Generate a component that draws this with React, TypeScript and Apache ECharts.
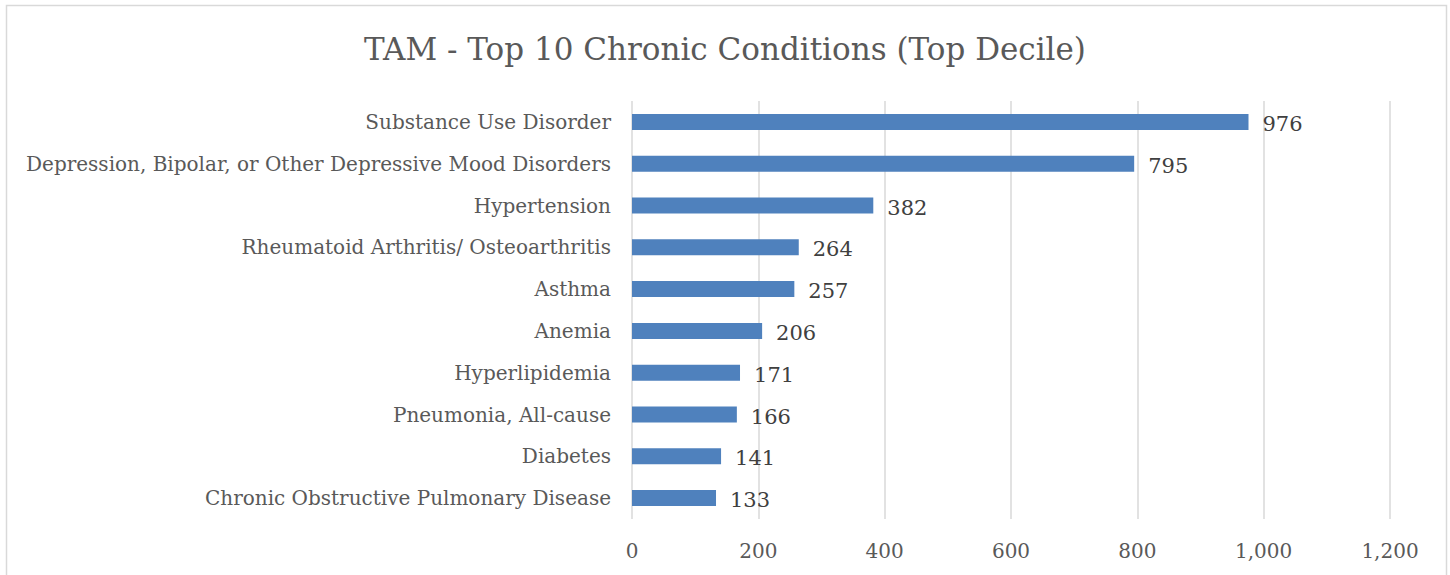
import React, { useEffect, useRef } from "react";
import * as echarts from "echarts";

const categories = [
  "Substance Use Disorder",
  "Depression, Bipolar, or Other Depressive Mood Disorders",
  "Hypertension",
  "Rheumatoid Arthritis/ Osteoarthritis",
  "Asthma",
  "Anemia",
  "Hyperlipidemia",
  "Pneumonia, All-cause",
  "Diabetes",
  "Chronic Obstructive Pulmonary Disease",
];
const values = [976, 795, 382, 264, 257, 206, 171, 166, 141, 133];
const titleText = "TAM - Top 10 Chronic Conditions (Top Decile)";

const FONT = "'DejaVu Serif', serif";

export default function App() {
  const ref = useRef<HTMLDivElement>(null);
  useEffect(() => {
    const chart = echarts.init(ref.current!, null, { renderer: "svg" });
    chart.setOption({
      animation: false,
      backgroundColor: "#ffffff",
      title: {
        text: titleText,
        left: "center",
        top: 28,
        textStyle: { fontFamily: FONT, fontSize: 31, fontWeight: "normal", color: "#595959" },
      },
      graphic: [
        {
          type: "rect",
          shape: { x: 6.5, y: 5.5, width: 1440, height: 600 },
          style: { fill: "none", stroke: "#D9D9D9", lineWidth: 1.5 },
          silent: true,
        },
      ],
      grid: { left: 632, right: 60, top: 101, height: 418, containLabel: false },
      xAxis: {
        type: "value",
        min: 0,
        max: 1200,
        interval: 200,
        axisLine: { show: false },
        axisTick: { show: false },
        splitLine: { show: true, lineStyle: { color: "#D9D9D9", width: 1.5 } },
        axisLabel: {
          fontFamily: FONT,
          fontSize: 20,
          color: "#595959",
          margin: 22,
          formatter: (v: number) => v.toLocaleString("en-US"),
        },
      },
      yAxis: {
        type: "category",
        data: categories,
        inverse: true,
        axisLine: { show: false },
        axisTick: { show: false },
        axisLabel: { fontFamily: FONT, fontSize: 20, color: "#595959", margin: 21 },
      },
      series: [
        {
          type: "bar",
          data: values,
          barWidth: 16,
          itemStyle: { color: "#4F81BD" },
          label: {
            show: true,
            position: "right",
            distance: 14,
            offset: [0, 2],
            fontFamily: FONT,
            fontSize: 21,
            color: "#404040",
          },
        },
      ],
    });
    return () => chart.dispose();
  }, []);
  return (
    <div
      ref={ref}
      style={{ position: "absolute", left: 0, top: 0, width: 1450, height: 575 }}
    />
  );
}
